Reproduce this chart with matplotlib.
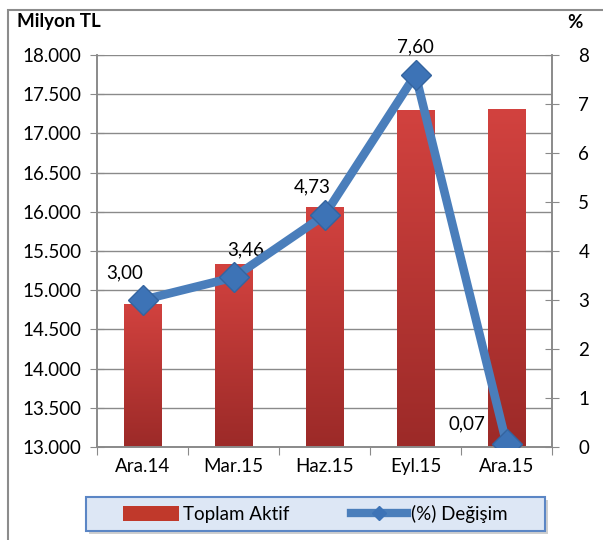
import matplotlib
matplotlib.use("Agg")
import matplotlib.pyplot as plt
import numpy as np
from matplotlib.patches import Rectangle, Patch, FancyBboxPatch
from matplotlib.lines import Line2D
from matplotlib.ticker import FuncFormatter, MultipleLocator
from matplotlib.colors import LinearSegmentedColormap

plt.rcParams['font.family'] = ['Lato', 'DejaVu Sans']

categories = ["Ara.14", "Mar.15", "Haz.15", "Eyl.15", "Ara.15"]
toplam_aktif = [14830, 15340, 16065, 17300, 17310]
degisim = [3.00, 3.46, 4.73, 7.60, 0.07]
degisim_labels = ["3,00", "3,46", "4,73", "7,60", "0,07"]
label_offsets = [(-18, 27), (12, 28), (-12, 28), (0, 28), (-40, 20)]

W, H = 603, 540
FS = 13.5
fig = plt.figure(figsize=(W/100, H/100), dpi=100)

# outer chart frame
fig.patches.append(Rectangle((8/W, -0.01), 1.0, (H-10)/H + 0.01, transform=fig.transFigure,
                             fill=False, edgecolor='#8c8c8c', lw=1.5))

ax = fig.add_axes([97/W, 93/H, 455/W, 392/H])
ax2 = ax.twinx()

x = np.arange(len(categories))
bw = 0.41
bars = ax.bar(x, toplam_aktif, width=bw, color='#c0392b', zorder=2)
ax.set_xlim(-0.5, len(categories) - 0.5)
ax.set_ylim(13000, 18000)

# gradient fill for bars
grad = np.linspace(0, 1, 256).reshape(-1, 1)
cmap = LinearSegmentedColormap.from_list('r', ['#9c2a28', '#d2423f'])
for b in bars:
    bx = b.get_x()
    w, h = b.get_width(), b.get_height()
    im = ax.imshow(grad, cmap=cmap, extent=[bx, bx + w, 13000, b.get_y() + h], origin='lower',
                   aspect='auto', zorder=2.5)
    im.set_clip_path(b)
ax.set_xlim(-0.5, len(categories) - 0.5)
ax.set_ylim(13000, 18000)

ax.yaxis.set_major_locator(MultipleLocator(500))
ax.yaxis.set_major_formatter(FuncFormatter(lambda v, p: f"{int(v):,}".replace(",", ".")))
ax.grid(axis='y', color='#8a8a8a', lw=1)
ax.set_axisbelow(True)

ax2.plot(x, degisim, color='#4a7ebb', lw=6.2, marker='D', markersize=15,
         markerfacecolor='#3d73b6', markeredgecolor='#34649f', markeredgewidth=1, zorder=5,
         solid_joinstyle='round')
ax2.set_ylim(0, 8)
ax2.yaxis.set_major_locator(MultipleLocator(1))
for xi, yi, lab, off in zip(x, degisim, degisim_labels, label_offsets):
    ax2.annotate(lab, (xi, yi), xytext=off, textcoords='offset pixels', ha='center', va='center',
                 fontsize=FS, color='black')

# ticks & spines
for a in (ax, ax2):
    for s in a.spines.values():
        s.set_color('#8a8a8a')
        s.set_linewidth(1.2)
    a.spines['top'].set_visible(False)
ax.set_xticks(np.arange(len(categories) + 1) - 0.5)
ax.set_xticklabels([])
ax.set_xticks(x, minor=True)
ax.set_xticklabels(categories, minor=True)
ax.tick_params(axis='x', which='major', length=6, color='#8a8a8a', direction='out')
ax.tick_params(axis='x', which='minor', length=0, labelsize=FS, pad=8)
ax.tick_params(axis='y', length=10, direction='inout', color='#8a8a8a', labelsize=FS, pad=6)
ax2.tick_params(axis='y', length=10, direction='inout', color='#8a8a8a', labelsize=FS, pad=14)

fig.text(17/W, 1 - 22/H, "Milyon TL", fontsize=FS, fontweight='bold', va='center', ha='left')
fig.text(575/W, 1 - 22/H, "%", fontsize=FS, fontweight='bold', va='center', ha='center')

# legend box with shadow and soft gradient
shadow = FancyBboxPatch((89/W, (540-534)/H), 459/W, 34/H, boxstyle='square,pad=0',
                        transform=fig.transFigure, facecolor='#b0b0b0', edgecolor='none', alpha=0.6)
fig.patches.append(shadow)
box = FancyBboxPatch((86/W, (540-531)/H), 459/W, 34/H, boxstyle='square,pad=0',
                     transform=fig.transFigure, facecolor='#dde7f5', edgecolor='#5b86c5', lw=1.5)
fig.patches.append(box)
lax = fig.add_axes([87/W, (540-530)/H, 457/W, 32/H])
lax.imshow(np.linspace(0, 1, 64).reshape(-1, 1), cmap=LinearSegmentedColormap.from_list('b', ['#c9daf2', '#f1f5fc']),
           origin='lower', aspect='auto', extent=[0, 1, 0, 1])
lax.set_axis_off()
handles = [Patch(facecolor='#c0392b', edgecolor='none'),
           Line2D([0], [0], color='#4a7ebb', lw=6, marker='D', markersize=7,
                  markerfacecolor='#3d73b6', markeredgecolor='#3d73b6')]
fig.legend(handles, ["Toplam Aktif", "(%) Değişim"], loc='center', ncol=2,
           bbox_to_anchor=(315/W, (540-514)/H), frameon=False, fontsize=FS,
           handlelength=3.0, handleheight=0.9, handletextpad=0.2, columnspacing=3.3)

fig.savefig("out.png", dpi=100)
